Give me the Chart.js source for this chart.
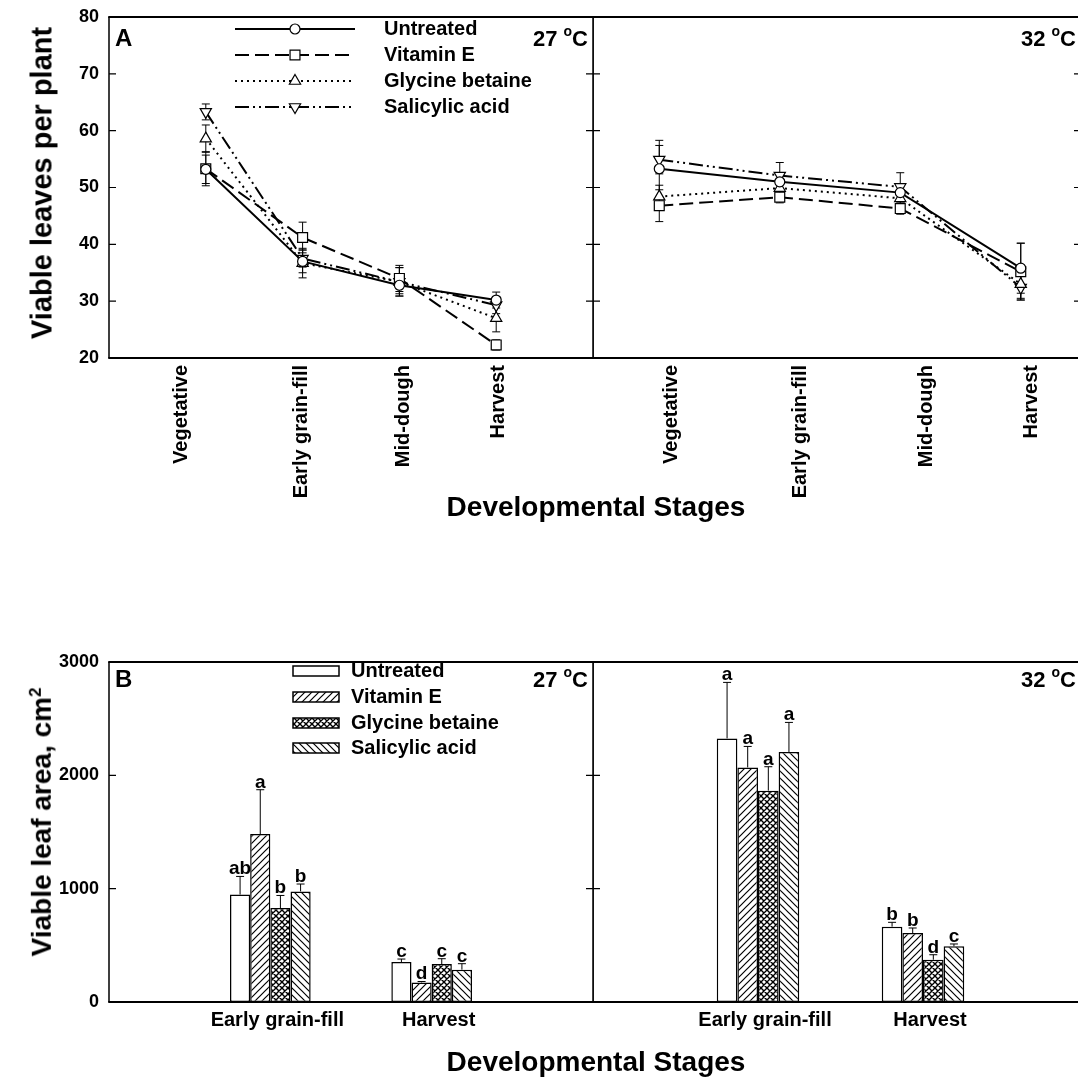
<!DOCTYPE html>
<html>
<head>
<meta charset="utf-8">
<script src="https://cdn.jsdelivr.net/npm/chart.js@4.4.0/dist/chart.umd.min.js"></script>
<style>
  html, body { margin: 0; padding: 0; background: #fff; overflow: hidden; }
  #page { position: relative; width: 1078px; height: 1082px; overflow: hidden;
          font-family: "Liberation Sans", Arial, Helvetica, sans-serif; color: #000; }
  .box { position: absolute; }
  .title { position: absolute; font-weight: bold; font-size: 28px; white-space: nowrap;
           transform: translate(-50%, -50%); }
  .title.rot { font-size: 29px; transform: translate(-50%, -50%) rotate(-90deg); }
  .title.rot.area { font-size: 28px; }
  .title sup { font-size: 17px; }
</style>
</head>
<body>
<div id="page">
  <div class="box" style="left:0;top:0"><canvas id="a27" width="600" height="540"></canvas></div>
  <div class="box" style="left:593px;top:0"><canvas id="a32" width="500" height="540"></canvas></div>
  <div class="box" style="left:0;top:640px"><canvas id="b27" width="600" height="440"></canvas></div>
  <div class="box" style="left:593px;top:640px"><canvas id="b32" width="500" height="440"></canvas></div>
  <div class="title rot" style="left:42px;top:183px">Viable leaves per plant</div>
  <div class="title" style="left:596px;top:507px">Developmental Stages</div>
  <div class="title rot area" style="left:42px;top:822px">Viable leaf area, cm<sup>2</sup></div>
  <div class="title" style="left:596px;top:1062px">Developmental Stages</div>
</div>
<script>
const FONT = "'Liberation Sans', Arial, Helvetica, sans-serif";
Chart.defaults.font.family = FONT;
Chart.defaults.color = '#000';
Chart.defaults.animation = false;

// ---- panel A: viable leaves per plant ----
const stagesA = ['Vegetative', 'Early grain-fill', 'Mid-dough', 'Harvest'];
const treatments = ['Untreated', 'Vitamin E', 'Glycine betaine', 'Salicylic acid'];
const leavesTicks = [20, 30, 40, 50, 60, 70, 80];

const leaves27Untreated = [53.2, 37.0, 32.8, 30.2];
const leaves27VitE = [53.3, 41.2, 34.0, 22.3];
const leaves27Glycine = [58.6, 36.7, 33.4, 27.0];
const leaves27Salicylic = [63.3, 37.5, 33.4, 29.3];
const leaves27UntreatedSe = [2.5, 2.0, 1.5, 1.4];
const leaves27VitESe = [3.0, 2.7, 2.3, 0.9];
const leaves27GlycineSe = [2.4, 2.6, 2.5, 2.4];
const leaves27SalicylicSe = [1.4, 1.5, 2.5, 1.5];

const leaves32Untreated = [53.3, 51.0, 49.1, 35.8];
const leaves32VitE = [46.8, 48.3, 46.3, 35.2];
const leaves32Glycine = [48.4, 49.9, 48.1, 33.0];
const leaves32Salicylic = [54.9, 52.1, 50.1, 32.4];
const leaves32UntreatedSe = [5.0, 1.5, 1.5, 4.4];
const leaves32VitESe = [2.8, 1.0, 1.0, 5.0];
const leaves32GlycineSe = [2.0, 1.5, 1.5, 2.5];
const leaves32SalicylicSe = [2.5, 2.3, 2.5, 2.2];

// ---- panel B: viable leaf area ----
const stagesB = ['Early grain-fill', 'Harvest'];
const areaTicks = [0, 1000, 2000, 3000];

const area27Untreated = [948, 353];
const area27VitE = [1482, 173];
const area27Glycine = [829, 335];
const area27Salicylic = [976, 285];
const area27UntreatedSe = [160, 26];
const area27VitESe = [391, 8];
const area27GlycineSe = [111, 47];
const area27SalicylicSe = [65, 53];
const area27UntreatedLetters = ['ab', 'c'];
const area27VitELetters = ['a', 'd'];
const area27GlycineLetters = ['b', 'c'];
const area27SalicylicLetters = ['b', 'c'];

const area32Untreated = [2326, 665];
const area32VitE = [2070, 608];
const area32Glycine = [1865, 373];
const area32Salicylic = [2206, 491];
const area32UntreatedSe = [494, 38];
const area32VitESe = [185, 45];
const area32GlycineSe = [211, 44];
const area32SalicylicSe = [261, 21];
const area32UntreatedLetters = ['a', 'b'];
const area32VitELetters = ['a', 'b'];
const area32GlycineLetters = ['a', 'd'];
const area32SalicylicLetters = ['a', 'c'];

// line look for each treatment
const lineStyles = [
  { dash: [], point: 'circle', rot: 0, r: 5 },
  { dash: [14, 6], point: 'rect', rot: 0, r: 7 },
  { dash: [2, 4], point: 'triangle', rot: 0, r: 6.5 },
  { dash: [14, 4, 2, 4, 2, 4], point: 'triangle', rot: 180, r: 6.5 }
];

function hatch(kind) {
  const s = kind === 'cross' ? 6 : 7;
  const c = document.createElement('canvas');
  c.width = s; c.height = s;
  const g = c.getContext('2d');
  g.fillStyle = '#fff';
  g.fillRect(0, 0, s, s);
  g.strokeStyle = '#000';
  g.lineWidth = kind === 'cross' ? 1.4 : 1.2;
  g.beginPath();
  if (kind === 'fwd' || kind === 'cross') {
    g.moveTo(-1, s + 1); g.lineTo(s + 1, -1);
    g.moveTo(-1, 1); g.lineTo(1, -1);
    g.moveTo(s - 1, s + 1); g.lineTo(s + 1, s - 1);
  }
  if (kind === 'back' || kind === 'cross') {
    g.moveTo(-1, -1); g.lineTo(s + 1, s + 1);
    g.moveTo(s - 1, -1); g.lineTo(s + 1, 1);
    g.moveTo(-1, s - 1); g.lineTo(1, s + 1);
  }
  g.stroke();
  return g.createPattern(c, 'repeat');
}
const barFills = ['#fff', hatch('fwd'), hatch('cross'), hatch('back')];

function lineSet(i, values, errs) {
  const st = lineStyles[i];
  return {
    label: treatments[i],
    data: values.map((v, k) => ({ x: k + 1, y: v })),
    errors: errs,
    borderColor: '#000',
    borderWidth: 2,
    borderDash: st.dash,
    pointStyle: st.point,
    pointRotation: st.rot,
    pointRadius: st.r,
    pointBackgroundColor: '#fff',
    pointBorderColor: '#000',
    pointBorderWidth: 1.2,
    tension: 0,
    fill: false
  };
}

function barSet(i, values, errs, letters) {
  return {
    label: treatments[i],
    data: [null, ...values, null],
    errors: [null, ...errs, null],
    letters: [null, ...letters, null],
    backgroundColor: barFills[i],
    borderColor: '#000',
    borderWidth: 1.5,
    borderSkipped: false,
    categoryPercentage: 0.5,
    barPercentage: 1.0
  };
}

function rawValue(raw) {
  if (raw === null || raw === undefined) return null;
  return typeof raw === 'object' ? raw.y : raw;
}

// vertical error bars with caps; bars get the upper half only
const errorBars = {
  id: 'errorBars',
  beforeDatasetsDraw(chart) {
    const ctx = chart.ctx;
    const ys = chart.scales.y;
    const upOnly = chart.config.type === 'bar';
    ctx.save();
    ctx.strokeStyle = '#000';
    ctx.lineWidth = 1;
    chart.data.datasets.forEach((ds, di) => {
      if (!ds.errors) return;
      chart.getDatasetMeta(di).data.forEach((el, i) => {
        const v = rawValue(ds.data[i]);
        const e = ds.errors[i];
        if (v === null || e === null || e === undefined) return;
        const top = ys.getPixelForValue(v + e);
        const bot = upOnly ? ys.getPixelForValue(v) : ys.getPixelForValue(v - e);
        ctx.beginPath();
        ctx.moveTo(el.x, top); ctx.lineTo(el.x, bot);
        ctx.moveTo(el.x - 4, top); ctx.lineTo(el.x + 4, top);
        if (!upOnly) { ctx.moveTo(el.x - 4, bot); ctx.lineTo(el.x + 4, bot); }
        ctx.stroke();
      });
    });
    ctx.restore();
  },
  afterDatasetsDraw(chart) {
    const ctx = chart.ctx;
    const ys = chart.scales.y;
    ctx.save();
    ctx.fillStyle = '#000';
    ctx.font = `bold 19px ${FONT}`;
    ctx.textAlign = 'center';
    ctx.textBaseline = 'alphabetic';
    chart.data.datasets.forEach((ds, di) => {
      if (!ds.letters) return;
      chart.getDatasetMeta(di).data.forEach((el, i) => {
        const v = rawValue(ds.data[i]);
        if (v === null || !ds.letters[i]) return;
        ctx.fillText(ds.letters[i], el.x, ys.getPixelForValue(v + ds.errors[i]) - 2);
      });
    });
    ctx.restore();
  }
};

// plot frame, inward ticks, panel letter and temperature
const framePlugin = {
  id: 'frame',
  afterDraw(chart, args, opts) {
    const { ctx, chartArea: a } = chart;
    const ys = chart.scales.y;
    ctx.save();
    ctx.strokeStyle = '#000';
    ctx.lineWidth = 2;
    ctx.beginPath();
    ctx.moveTo(a.left - 0.75, a.top); ctx.lineTo(a.right + 0.75, a.top);
    ctx.moveTo(a.left - 0.75, a.bottom); ctx.lineTo(a.right + 0.75, a.bottom);
    ctx.stroke();
    ctx.lineWidth = 1.5;
    ctx.beginPath();
    ctx.moveTo(a.left, a.top); ctx.lineTo(a.left, a.bottom);
    ctx.moveTo(a.right, a.top); ctx.lineTo(a.right, a.bottom);
    ctx.stroke();
    ctx.lineWidth = 1.2;
    ctx.beginPath();
    (opts.ticks || []).forEach(v => {
      const py = ys.getPixelForValue(v);
      if (py <= a.top + 1 || py >= a.bottom - 1) return;
      ctx.moveTo(a.left, py); ctx.lineTo(a.left + 7, py);
      ctx.moveTo(a.right, py); ctx.lineTo(a.right - 7, py);
    });
    ctx.stroke();

    ctx.fillStyle = '#000';
    ctx.textBaseline = 'alphabetic';
    const base = a.top + opts.base;
    if (opts.letter) {
      ctx.font = `bold 24px ${FONT}`;
      ctx.textAlign = 'left';
      ctx.fillText(opts.letter, a.left + 6, base);
    }
    if (opts.temp) {
      ctx.textAlign = 'left';
      ctx.font = `bold 22px ${FONT}`;
      const wC = ctx.measureText('C').width;
      const wN = ctx.measureText(opts.temp + ' ').width;
      ctx.font = `bold 14px ${FONT}`;
      const wO = ctx.measureText('o').width;
      let x = opts.right !== undefined ? opts.right : a.right - 5;
      x -= wC + wO + wN;
      ctx.font = `bold 22px ${FONT}`;
      ctx.fillText(opts.temp + ' ', x, base);
      x += wN;
      ctx.font = `bold 14px ${FONT}`;
      ctx.fillText('o', x, base - 10);
      x += wO;
      ctx.font = `bold 22px ${FONT}`;
      ctx.fillText('C', x, base);
    }
    ctx.restore();
  }
};

// legend with line samples or pattern swatches
const sampleLegend = {
  id: 'sampleLegend',
  afterDraw(chart, args, opts) {
    if (!opts.rows) return;
    const ctx = chart.ctx;
    ctx.save();
    chart.data.datasets.forEach((ds, i) => {
      const y = opts.rows[i];
      if (opts.kind === 'line') {
        ctx.strokeStyle = '#000';
        ctx.lineWidth = ds.borderWidth;
        ctx.setLineDash(ds.borderDash || []);
        ctx.beginPath();
        ctx.moveTo(opts.x0, y); ctx.lineTo(opts.x1, y);
        ctx.stroke();
        ctx.setLineDash([]);
        ctx.fillStyle = '#fff';
        ctx.lineWidth = ds.pointBorderWidth;
        Chart.helpers.drawPoint(ctx, {
          pointStyle: ds.pointStyle, rotation: ds.pointRotation,
          radius: ds.pointRadius, borderWidth: ds.pointBorderWidth
        }, opts.xm, y);
      } else {
        ctx.fillStyle = ds.backgroundColor;
        ctx.fillRect(opts.x0, y - 5, opts.x1 - opts.x0, 10);
        ctx.strokeStyle = '#000';
        ctx.lineWidth = 1.5;
        ctx.strokeRect(opts.x0, y - 5, opts.x1 - opts.x0, 10);
      }
      ctx.fillStyle = '#000';
      ctx.font = `bold 20px ${FONT}`;
      ctx.textAlign = 'left';
      ctx.textBaseline = 'middle';
      ctx.fillText(ds.label, opts.xt, y);
    });
    ctx.restore();
  }
};

const tickFont = { size: 18, weight: 'bold' };
const stageFont = { size: 20, weight: 'bold' };
const noGrid = { display: false, drawTicks: false };

// y axis with a fixed width; end labels may overhang the frame
function yAxis(ticks, showLabels) {
  return {
    min: ticks[0],
    max: ticks[ticks.length - 1],
    grid: noGrid,
    border: { display: false },
    afterBuildTicks: s => { s.ticks = ticks.map(v => ({ value: v })); },
    afterFit: s => {
      s.width = showLabels ? 109 : 0;
      s.paddingTop = 0;
      s.paddingBottom = 0;
    },
    ticks: { display: showLabels, padding: 10, font: tickFont, color: '#000', callback: v => String(v) }
  };
}

// x axis keeps a fixed height and no side overhang so the panels butt together
function fixedX(height) {
  return s => { s.height = height; s.paddingLeft = 0; s.paddingRight = 0; };
}

function leavesChart(id, sets, xMin, xMax, slots, frame, legend, padRight) {
  return new Chart(document.getElementById(id), {
    type: 'line',
    data: { datasets: sets },
    options: {
      responsive: false,
      layout: { autoPadding: false, padding: { top: 17, right: padRight, left: 0, bottom: 0 } },
      plugins: { legend: { display: false }, tooltip: { enabled: false }, frame, sampleLegend: legend },
      scales: {
        x: {
          type: 'linear', min: xMin, max: xMax,
          grid: noGrid, border: { display: false },
          afterBuildTicks: s => { s.ticks = slots.map(v => ({ value: v })); },
          afterFit: fixedX(182),
          ticks: {
            autoSkip: false, minRotation: 90, maxRotation: 90, padding: 7,
            font: stageFont, color: '#000',
            callback: (v, i) => stagesA[i]
          }
        },
        y: yAxis(leavesTicks, id === 'a27')
      }
    },
    plugins: [errorBars, framePlugin, sampleLegend]
  });
}

function areaChart(id, sets, frame, legend, padRight) {
  return new Chart(document.getElementById(id), {
    type: 'bar',
    data: { labels: ['', ...stagesB, ''], datasets: sets },
    options: {
      responsive: false,
      layout: { autoPadding: false, padding: { top: 22, right: padRight, left: 0, bottom: 0 } },
      plugins: { legend: { display: false }, tooltip: { enabled: false }, frame, sampleLegend: legend },
      scales: {
        x: {
          type: 'category', offset: false,
          grid: noGrid, border: { display: false },
          afterFit: fixedX(78),
          ticks: { autoSkip: false, maxRotation: 0, padding: 6, labelOffset: 7, font: stageFont, color: '#000' }
        },
        y: yAxis(areaTicks, id === 'b27')
      }
    },
    plugins: [errorBars, framePlugin, sampleLegend]
  });
}

leavesChart('a27', [
  lineSet(0, leaves27Untreated, leaves27UntreatedSe),
  lineSet(1, leaves27VitE, leaves27VitESe),
  lineSet(2, leaves27Glycine, leaves27GlycineSe),
  lineSet(3, leaves27Salicylic, leaves27SalicylicSe)
], 0, 5, [0.75, 1.99, 3.04, 4.02],
  { ticks: leavesTicks, letter: 'A', temp: '27', base: 29 },
  { kind: 'line', rows: [29, 55, 81, 107], x0: 235, x1: 355, xm: 295, xt: 384 }, 7);

leavesChart('a32', [
  lineSet(0, leaves32Untreated, leaves32UntreatedSe),
  lineSet(1, leaves32VitE, leaves32VitESe),
  lineSet(2, leaves32Glycine, leaves32GlycineSe),
  lineSet(3, leaves32Salicylic, leaves32SalicylicSe)
], 0.45, 4.5, [1.1, 2.17, 3.22, 4.09],
  { ticks: leavesTicks, temp: '32', base: 29, right: 483 }, {}, 12);

areaChart('b27', [
  barSet(0, area27Untreated, area27UntreatedSe, area27UntreatedLetters),
  barSet(1, area27VitE, area27VitESe, area27VitELetters),
  barSet(2, area27Glycine, area27GlycineSe, area27GlycineLetters),
  barSet(3, area27Salicylic, area27SalicylicSe, area27SalicylicLetters)
], { ticks: areaTicks, letter: 'B', temp: '27', base: 25 },
  { kind: 'bar', rows: [31, 57, 83, 108], x0: 293, x1: 339, xt: 351 }, 7);

areaChart('b32', [
  barSet(0, area32Untreated, area32UntreatedSe, area32UntreatedLetters),
  barSet(1, area32VitE, area32VitESe, area32VitELetters),
  barSet(2, area32Glycine, area32GlycineSe, area32GlycineLetters),
  barSet(3, area32Salicylic, area32SalicylicSe, area32SalicylicLetters)
], { ticks: areaTicks, temp: '32', base: 25, right: 483 }, {}, 5);
</script>
</body>
</html>
